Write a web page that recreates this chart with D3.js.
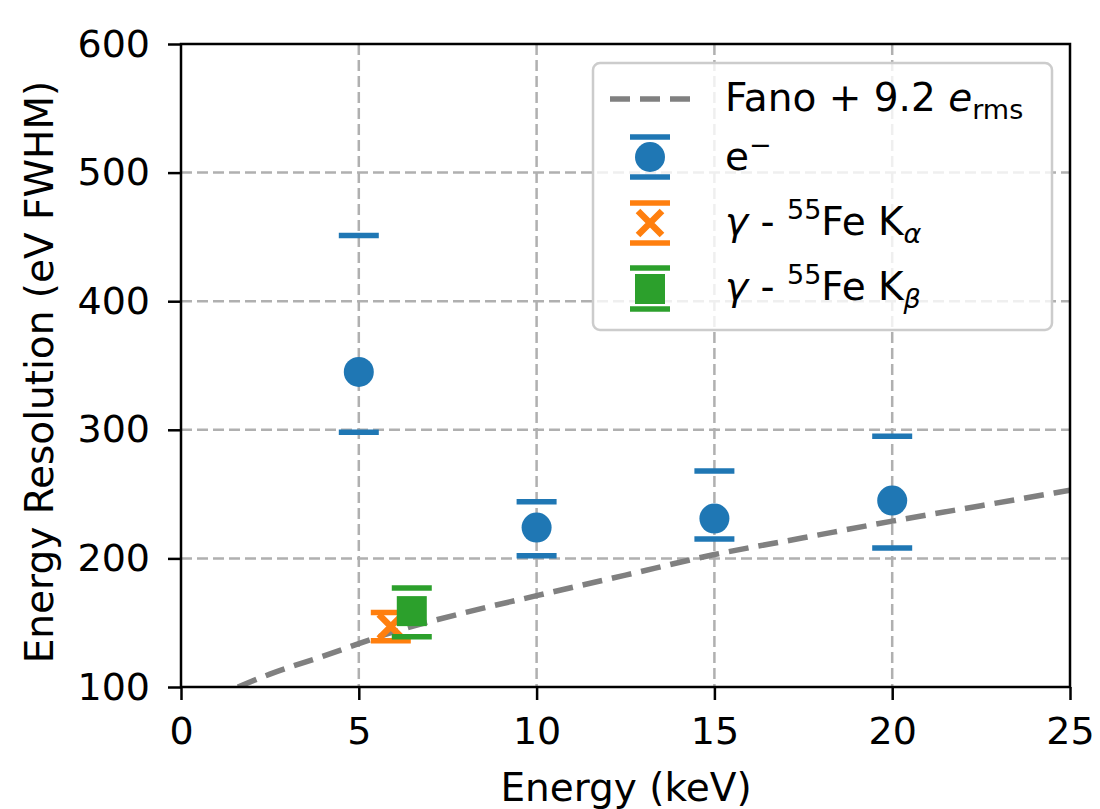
<!DOCTYPE html>
<html>
<head>
<meta charset="utf-8">
<script src="https://cdn.jsdelivr.net/npm/d3@7"></script>
<style>
  body { margin: 0; background: #fff; }
  text { font-family: "DejaVu Sans", sans-serif; }
</style>
</head>
<body>
<svg id="plot" width="1100" height="809"></svg>
<script>
// electron beam points
let eEnergy = [5, 10, 15, 20];
let eRes    = [345, 224, 231, 245];
let eLow    = [298, 202, 215, 208];
let eHigh   = [451, 244, 268, 295];

// 55Fe K-alpha / K-beta
let kaEnergy = [5.9],  kaRes = [147], kaLow = [136], kaHigh = [158];
let kbEnergy = [6.49], kbRes = [159], kbLow = [139], kbHigh = [177];

// Fano + 9.2 e_rms curve
let fanoE   = [1.6, 2.5, 4, 6, 8, 10, 12.5, 15, 17.5, 20, 22.5, 25];
let fanoRes = [100, 110, 124, 143, 158, 171, 187, 203, 216, 229, 241, 253];

let xTicks = [0, 5, 10, 15, 20, 25];
let yTicks = [100, 200, 300, 400, 500, 600];

const blue = "#1f77b4", orange = "#ff7f0e", green = "#2ca02c";

let svg = d3.select("#plot");

let xScale = d3.scaleLinear().domain([0, 25]).range([181, 1070]);
let yScale = d3.scaleLinear().domain([100, 600]).range([687, 44]);

// grid
let grid = svg.append("g");
grid.selectAll("line.gx").data(xTicks.slice(1, -1)).enter().append("line")
  .attr("x1", d => xScale(d)).attr("x2", d => xScale(d))
  .attr("y1", 44).attr("y2", 687)
  .attr("stroke", "#b0b0b0").attr("stroke-width", 2.5).attr("stroke-dasharray", "11,5");
grid.selectAll("line.gy").data(yTicks.slice(1, -1)).enter().append("line")
  .attr("y1", d => yScale(d)).attr("y2", d => yScale(d))
  .attr("x1", 181).attr("x2", 1070)
  .attr("stroke", "#b0b0b0").attr("stroke-width", 2.5).attr("stroke-dasharray", "11,5");

// clip
svg.append("clipPath").attr("id", "clip").append("rect")
  .attr("x", 181).attr("y", 44).attr("width", 889).attr("height", 643);

// fano curve
let fanoData = fanoE.map((x, i) => [x, fanoRes[i]]);
svg.append("path")
  .datum(fanoData)
  .attr("clip-path", "url(#clip)")
  .attr("d", d3.line().x(p => xScale(p[0])).y(p => yScale(p[1])).curve(d3.curveMonotoneX))
  .attr("fill", "none").attr("stroke", "#808080").attr("stroke-width", 5.5)
  .attr("stroke-dasharray", "20,10");

// caps helper
function caps(g, xs, lo, hi, color) {
  let pts = [];
  xs.forEach((x, i) => { pts.push([x, lo[i]]); pts.push([x, hi[i]]); });
  g.selectAll(null).data(pts).enter().append("line")
    .attr("x1", p => xScale(p[0]) - 20).attr("x2", p => xScale(p[0]) + 20)
    .attr("y1", p => yScale(p[1])).attr("y2", p => yScale(p[1]))
    .attr("stroke", color).attr("stroke-width", 5.5);
}

// electrons
let gE = svg.append("g");
caps(gE, eEnergy, eLow, eHigh, blue);
gE.selectAll("circle").data(eEnergy).enter().append("circle")
  .attr("cx", d => xScale(d)).attr("cy", (d, i) => yScale(eRes[i]))
  .attr("r", 15).attr("fill", blue);

// K-alpha
let gA = svg.append("g");
caps(gA, kaEnergy, kaLow, kaHigh, orange);
gA.selectAll("path").data(kaEnergy).enter().append("path")
  .attr("d", (d, i) => {
    let cx = xScale(d), cy = yScale(kaRes[i]), s = 12;
    return `M${cx - s},${cy - s}L${cx + s},${cy + s}M${cx - s},${cy + s}L${cx + s},${cy - s}`;
  })
  .attr("stroke", orange).attr("stroke-width", 6.5).attr("fill", "none");

// K-beta
let gB = svg.append("g");
caps(gB, kbEnergy, kbLow, kbHigh, green);
gB.selectAll("rect").data(kbEnergy).enter().append("rect")
  .attr("x", d => xScale(d) - 15).attr("y", (d, i) => yScale(kbRes[i]) - 15)
  .attr("width", 30).attr("height", 30).attr("fill", green);

// axes
let xAxis = svg.append("g").attr("transform", "translate(0,687)")
  .call(d3.axisBottom(xScale).tickValues(xTicks).tickSize(13).tickPadding(17));
let yAxis = svg.append("g").attr("transform", "translate(181,0)")
  .call(d3.axisLeft(yScale).tickValues(yTicks).tickSize(13).tickPadding(18));
[xAxis, yAxis].forEach(a => {
  a.select(".domain").remove();
  a.selectAll(".tick line").attr("stroke", "#000").attr("stroke-width", 2.5);
  a.selectAll(".tick text").attr("font-size", 38).attr("fill", "#000")
    .attr("font-family", "DejaVu Sans");
});

// frame
svg.append("rect").attr("x", 181).attr("y", 44).attr("width", 889).attr("height", 643)
  .attr("fill", "none").attr("stroke", "#000").attr("stroke-width", 2.5);

// axis labels
svg.append("text").attr("x", 626).attr("y", 801).attr("text-anchor", "middle")
  .attr("font-size", 39).text("Energy (keV)");
svg.append("text").attr("transform", "translate(53,372) rotate(-90)")
  .attr("text-anchor", "middle").attr("font-size", 39).text("Energy Resolution (eV FWHM)");

// legend
let lg = svg.append("g");
lg.append("rect").attr("x", 593).attr("y", 63).attr("width", 459).attr("height", 267)
  .attr("rx", 7).attr("fill", "#fff").attr("fill-opacity", 0.8)
  .attr("stroke", "#cccccc").attr("stroke-width", 2.5);

let hx = 650;
lg.append("line").attr("x1", 610).attr("x2", 690).attr("y1", 99).attr("y2", 99)
  .attr("stroke", "#808080").attr("stroke-width", 5.5).attr("stroke-dasharray", "20,10");

function hcaps(y1, y2, color) {
  [y1, y2].forEach(y => lg.append("line")
    .attr("x1", hx - 20).attr("x2", hx + 20).attr("y1", y).attr("y2", y)
    .attr("stroke", color).attr("stroke-width", 5.5));
}

// e- handle
hcaps(137, 177, blue);
lg.append("circle").attr("cx", hx).attr("cy", 157).attr("r", 15).attr("fill", blue);

// Ka handle
hcaps(203, 243, orange);
lg.append("path").attr("d", `M${hx - 12},${211}L${hx + 12},${235}M${hx - 12},${235}L${hx + 12},${211}`)
  .attr("stroke", orange).attr("stroke-width", 6.5);

// Kb handle
hcaps(268, 309, green);
lg.append("rect").attr("x", hx - 15).attr("y", 274).attr("width", 30).attr("height", 30).attr("fill", green);

// legend texts
let tx = 725;
let t1 = lg.append("text").attr("x", tx).attr("y", 111).attr("font-size", 39);
t1.append("tspan").text("Fano + 9.2 ");
t1.append("tspan").attr("font-style", "italic").text("e");
t1.append("tspan").attr("font-size", 27).attr("dy", 8).text("rms");

let t2 = lg.append("text").attr("x", tx).attr("y", 170).attr("font-size", 39);
t2.append("tspan").text("e");
t2.append("tspan").attr("font-size", 27).attr("dy", -16).text("\u2212");

function gammaText(y, sub) {
  let t = lg.append("text").attr("x", tx).attr("y", y).attr("font-size", 39);
  t.append("tspan").attr("font-style", "italic").text("\u03b3");
  t.append("tspan").text(" - ");
  t.append("tspan").attr("font-size", 27).attr("dy", -16).text("55");
  t.append("tspan").attr("dy", 16).text("Fe K");
  t.append("tspan").attr("font-size", 27).attr("dy", 8).attr("font-style", "italic").text(sub);
}
gammaText(235, "\u03b1");
gammaText(300, "\u03b2");
</script>
</body>
</html>
